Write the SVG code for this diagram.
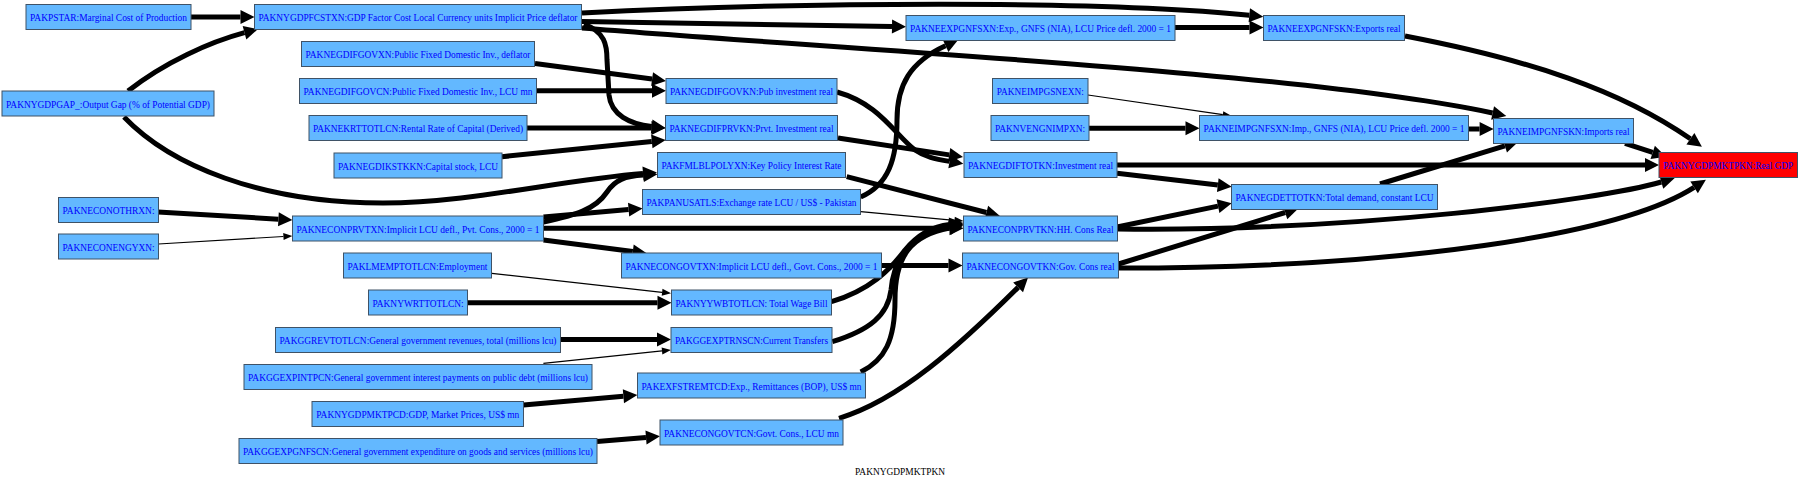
<svg xmlns="http://www.w3.org/2000/svg" width="1800" height="483" viewBox="0 0 1800 483">
<style>
.n rect{fill:#63b8ff;stroke:#3f5266;stroke-width:1}
.n text{font-family:"Liberation Serif","Times New Roman",serif;font-size:11px;fill:#0000ff;text-anchor:middle}
.e path{fill:none;stroke:#000}
.k{stroke-width:5}
.t{stroke-width:1.2}
.lbl{font-family:"Liberation Serif","Times New Roman",serif;font-size:11px;fill:#000;text-anchor:middle}
</style>
<defs>
<marker id="ak" markerUnits="userSpaceOnUse" markerWidth="15" markerHeight="15" refX="0" refY="7" orient="auto" overflow="visible"><path d="M0,0 L14,7 L0,14 z" fill="#000"/></marker>
<marker id="at" markerUnits="userSpaceOnUse" markerWidth="10" markerHeight="8" refX="0" refY="3.5" orient="auto" overflow="visible"><path d="M0,0 L9,3.5 L0,7 z" fill="#000"/></marker>
</defs>
<rect width="1800" height="483" fill="#fff"/>
<g id="edges" class="e">
<path class="k" marker-end="url(#ak)" d="M191,17 L240.5,17"/>
<path class="k" marker-end="url(#ak)" d="M128,91 C165,62 210,42 244.5,32.7"/>
<path class="k" marker-end="url(#ak)" d="M124,117 C170,165 260,203 383,203 C470,203 560,180 643,173.5"/>
<path class="k" marker-end="url(#ak)" d="M582,13 C800,2 1100,0 1249.3,15.3"/>
<path class="k" marker-end="url(#ak)" d="M582,21.5 L892,26.5"/>
<path class="k" marker-end="url(#ak)" d="M582,28 C850,50 1300,72 1492.6,113"/>
<path class="k" marker-end="url(#ak)" d="M584,24 C605,32 607,45 607,60 L609,95 C611,115 630,124 651.7,126.5"/>
<path class="k" marker-end="url(#ak)" d="M535,63.5 L652.1,79.1"/>
<path class="k" marker-end="url(#ak)" d="M536.5,90.7 L652,90.7"/>
<path class="k" marker-end="url(#ak)" d="M527,128 L651.5,128"/>
<path class="k" marker-end="url(#ak)" d="M502,156.7 L651.8,141.4"/>
<path class="k" marker-end="url(#ak)" d="M837,92 C880,104 895,135 915,150 C925,157 935,159 949.5,161.4"/>
<path class="k" marker-end="url(#ak)" d="M838,138 L949.2,154.9"/>
<path class="k" marker-end="url(#ak)" d="M1117,165 L1645,165"/>
<path class="k" marker-end="url(#ak)" d="M1117,173.3 L1217.8,185.1"/>
<path class="k" marker-end="url(#ak)" d="M1175,27.5 L1249.5,27.5"/>
<path class="k" marker-end="url(#ak)" d="M1405,36 C1530,60 1620,90 1690.4,138.8"/>
<path class="t" marker-end="url(#at)" d="M1088,95 L1222.8,114.7"/>
<path class="k" marker-end="url(#ak)" d="M1089,128.3 L1185.5,128.3"/>
<path class="k" marker-end="url(#ak)" d="M1468.3,129 L1479.6,129"/>
<path class="k" marker-end="url(#ak)" d="M1625,143.3 L1652.7,152.4"/>
<path class="k" marker-end="url(#ak)" d="M1380,184 L1504.9,145.8"/>
<path class="k" marker-end="url(#ak)" d="M158,212 L278.4,219.2"/>
<path class="t" marker-end="url(#at)" d="M158.4,244 L283.4,236.5"/>
<path class="k" marker-end="url(#ak)" d="M543.5,222 C575,215 595,210 607,192 C615,180 625,176 643.5,175"/>
<path class="k" marker-end="url(#ak)" d="M543.5,217 L628.6,209.6"/>
<path class="k" marker-end="url(#ak)" d="M543.5,228.3 L949.5,228.3"/>
<path class="k" marker-end="url(#ak)" d="M543.5,240 L632.8,251.5"/>
<path class="k" marker-end="url(#ak)" d="M846.7,176.7 L986.4,212.5"/>
<path class="k" marker-end="url(#ak)" d="M860.7,197 C888,185 897,160 897,120 C897,85 910,62 945.5,45.7"/>
<path class="t" marker-end="url(#at)" d="M860.7,211.7 L954.5,220.3"/>
<path class="k" marker-end="url(#ak)" d="M881.3,265.5 L948.5,265.5"/>
<path class="t" marker-end="url(#at)" d="M491.8,273.3 L662.1,292.3"/>
<path class="k" marker-end="url(#ak)" d="M467.6,302.7 L657.5,302.7"/>
<path class="k" marker-end="url(#ak)" d="M831.5,301.7 C870,290 890,270 905,250 C920,232 935,226 949.5,224.5"/>
<path class="k" marker-end="url(#ak)" d="M560.6,339.5 L657,339.5"/>
<path class="t" marker-end="url(#at)" d="M543.4,363.3 L662,350.9"/>
<path class="k" marker-end="url(#ak)" d="M832.3,341.7 C870,330 888,315 891,290 C894,255 915,232 949.5,226.5"/>
<path class="k" marker-end="url(#ak)" d="M523.5,405 L623.4,396.2"/>
<path class="k" marker-end="url(#ak)" d="M860.7,372 C885,360 895,340 895,300 C895,255 912,235 949.5,228"/>
<path class="k" marker-end="url(#ak)" d="M597,441.5 L646,437.5"/>
<path class="k" marker-end="url(#ak)" d="M839,418.3 C900,400 960,345 1018.1,287.4"/>
<path class="k" marker-end="url(#ak)" d="M1117.7,229 C1350,232 1600,200 1661.3,182"/>
<path class="k" marker-end="url(#ak)" d="M1117,227 L1218,206.1"/>
<path class="k" marker-end="url(#ak)" d="M1118.5,268 C1400,268 1620,235 1694.1,187.4"/>
<path class="k" marker-end="url(#ak)" d="M1118.5,264 L1285.2,212.5"/>
</g>
<g id="PAKPSTAR" class="n"><rect x="26" y="4.5" width="165" height="25"/><text x="108.5" y="21" textLength="157" lengthAdjust="spacingAndGlyphs">PAKPSTAR:Marginal Cost of Production</text></g>
<g id="PAKNYGDPFCSTXN" class="n"><rect x="254.5" y="4.5" width="327" height="25"/><text x="418" y="21" textLength="319" lengthAdjust="spacingAndGlyphs">PAKNYGDPFCSTXN:GDP Factor Cost Local Currency units Implicit Price deflator</text></g>
<g id="PAKNEGDIFGOVXN" class="n"><rect x="301.5" y="41.5" width="233" height="25"/><text x="418" y="58" textLength="225" lengthAdjust="spacingAndGlyphs">PAKNEGDIFGOVXN:Public Fixed Domestic Inv., deflator</text></g>
<g id="PAKNEGDIFGOVCN" class="n"><rect x="299.5" y="78.5" width="237" height="25"/><text x="418" y="95" textLength="229" lengthAdjust="spacingAndGlyphs">PAKNEGDIFGOVCN:Public Fixed Domestic Inv., LCU mn</text></g>
<g id="PAKNEKRTTOTLCN" class="n"><rect x="309" y="115.5" width="218" height="25"/><text x="418" y="132" textLength="210" lengthAdjust="spacingAndGlyphs">PAKNEKRTTOTLCN:Rental Rate of Capital (Derived)</text></g>
<g id="PAKNEGDIKSTKKN" class="n"><rect x="334" y="153" width="168" height="25"/><text x="418" y="169.5" textLength="160" lengthAdjust="spacingAndGlyphs">PAKNEGDIKSTKKN:Capital stock, LCU</text></g>
<g id="PAKNYGDPGAP_" class="n"><rect x="2" y="91" width="212" height="25"/><text x="108" y="107.5" textLength="204" lengthAdjust="spacingAndGlyphs">PAKNYGDPGAP_:Output Gap (% of Potential GDP)</text></g>
<g id="PAKNECONOTHRXN" class="n"><rect x="58.5" y="197.5" width="100" height="25"/><text x="108.5" y="214" textLength="92" lengthAdjust="spacingAndGlyphs">PAKNECONOTHRXN:</text></g>
<g id="PAKNECONENGYXN" class="n"><rect x="58.5" y="234" width="100" height="25"/><text x="108.5" y="250.5" textLength="92" lengthAdjust="spacingAndGlyphs">PAKNECONENGYXN:</text></g>
<g id="PAKNECONPRVTXN" class="n"><rect x="292.5" y="216" width="251" height="25"/><text x="418" y="232.5" textLength="243" lengthAdjust="spacingAndGlyphs">PAKNECONPRVTXN:Implicit LCU defl., Pvt. Cons., 2000 = 1</text></g>
<g id="PAKLMEMPTOTLCN" class="n"><rect x="343.5" y="253" width="148" height="25"/><text x="417.5" y="269.5" textLength="140" lengthAdjust="spacingAndGlyphs">PAKLMEMPTOTLCN:Employment</text></g>
<g id="PAKNYWRTTOTLCN" class="n"><rect x="368.5" y="290" width="99" height="25"/><text x="418" y="306.5" textLength="91" lengthAdjust="spacingAndGlyphs">PAKNYWRTTOTLCN:</text></g>
<g id="PAKGGREVTOTLCN" class="n"><rect x="275.5" y="327.5" width="285" height="25"/><text x="418" y="344" textLength="277" lengthAdjust="spacingAndGlyphs">PAKGGREVTOTLCN:General government revenues, total (millions lcu)</text></g>
<g id="PAKGGEXPINTPCN" class="n"><rect x="244" y="364.5" width="348" height="25"/><text x="418" y="381" textLength="340" lengthAdjust="spacingAndGlyphs">PAKGGEXPINTPCN:General government interest payments on public debt (millions lcu)</text></g>
<g id="PAKNYGDPMKTPCD" class="n"><rect x="312" y="401.5" width="211.5" height="25"/><text x="417.75" y="418" textLength="203" lengthAdjust="spacingAndGlyphs">PAKNYGDPMKTPCD:GDP, Market Prices, US$ mn</text></g>
<g id="PAKGGEXPGNFSCN" class="n"><rect x="239" y="438.5" width="358" height="25"/><text x="418" y="455" textLength="350" lengthAdjust="spacingAndGlyphs">PAKGGEXPGNFSCN:General government expenditure on goods and services (millions lcu)</text></g>
<g id="PAKNEEXPGNFSXN" class="n"><rect x="906" y="15.5" width="269" height="25"/><text x="1040.5" y="32" textLength="261" lengthAdjust="spacingAndGlyphs">PAKNEEXPGNFSXN:Exp., GNFS (NIA), LCU Price defl. 2000 = 1</text></g>
<g id="PAKNEGDIFGOVKN" class="n"><rect x="666" y="78.5" width="171" height="25"/><text x="751.5" y="95" textLength="163" lengthAdjust="spacingAndGlyphs">PAKNEGDIFGOVKN:Pub investment real</text></g>
<g id="PAKNEGDIFPRVKN" class="n"><rect x="665.5" y="115.5" width="172" height="25"/><text x="751.5" y="132" textLength="164" lengthAdjust="spacingAndGlyphs">PAKNEGDIFPRVKN:Prvt. Investment real</text></g>
<g id="PAKFMLBLPOLYXN" class="n"><rect x="657.5" y="152.5" width="188" height="25"/><text x="751.5" y="169" textLength="180" lengthAdjust="spacingAndGlyphs">PAKFMLBLPOLYXN:Key Policy Interest Rate</text></g>
<g id="PAKPANUSATLS" class="n"><rect x="642.5" y="189.5" width="218" height="25"/><text x="751.5" y="206" textLength="210" lengthAdjust="spacingAndGlyphs">PAKPANUSATLS:Exchange rate LCU / US$ - Pakistan</text></g>
<g id="PAKNECONGOVTXN" class="n"><rect x="621.5" y="253" width="260" height="25"/><text x="751.5" y="269.5" textLength="252" lengthAdjust="spacingAndGlyphs">PAKNECONGOVTXN:Implicit LCU defl., Govt. Cons., 2000 = 1</text></g>
<g id="PAKNYYWBTOTLCN" class="n"><rect x="671.5" y="290" width="160" height="25"/><text x="751.5" y="306.5" textLength="152" lengthAdjust="spacingAndGlyphs">PAKNYYWBTOTLCN: Total Wage Bill</text></g>
<g id="PAKGGEXPTRNSCN" class="n"><rect x="671" y="327.5" width="161" height="25"/><text x="751.5" y="344" textLength="153" lengthAdjust="spacingAndGlyphs">PAKGGEXPTRNSCN:Current Transfers</text></g>
<g id="PAKEXFSTREMTCD" class="n"><rect x="637.5" y="373" width="228" height="25"/><text x="751.5" y="389.5" textLength="220" lengthAdjust="spacingAndGlyphs">PAKEXFSTREMTCD:Exp., Remittances (BOP), US$ mn</text></g>
<g id="PAKNECONGOVTCN" class="n"><rect x="660" y="420" width="183" height="25"/><text x="751.5" y="436.5" textLength="175" lengthAdjust="spacingAndGlyphs">PAKNECONGOVTCN:Govt. Cons., LCU mn</text></g>
<g id="PAKNEIMPGSNEXN" class="n"><rect x="992.5" y="78.5" width="95.5" height="25"/><text x="1040.25" y="95" textLength="87" lengthAdjust="spacingAndGlyphs">PAKNEIMPGSNEXN:</text></g>
<g id="PAKNVENGNIMPXN" class="n"><rect x="991" y="115.5" width="98" height="25"/><text x="1040" y="132" textLength="90" lengthAdjust="spacingAndGlyphs">PAKNVENGNIMPXN:</text></g>
<g id="PAKNEGDIFTOTKN" class="n"><rect x="964" y="152.5" width="153" height="25"/><text x="1040.5" y="169" textLength="145" lengthAdjust="spacingAndGlyphs">PAKNEGDIFTOTKN:Investment real</text></g>
<g id="PAKNECONPRVTKN" class="n"><rect x="963.5" y="216" width="154" height="25"/><text x="1040.5" y="232.5" textLength="146" lengthAdjust="spacingAndGlyphs">PAKNECONPRVTKN:HH. Cons Real</text></g>
<g id="PAKNECONGOVTKN" class="n"><rect x="962.5" y="253" width="156" height="25"/><text x="1040.5" y="269.5" textLength="148" lengthAdjust="spacingAndGlyphs">PAKNECONGOVTKN:Gov. Cons real</text></g>
<g id="PAKNEEXPGNFSKN" class="n"><rect x="1263.5" y="15.5" width="141" height="25"/><text x="1334" y="32" textLength="133" lengthAdjust="spacingAndGlyphs">PAKNEEXPGNFSKN:Exports real</text></g>
<g id="PAKNEIMPGNFSXN" class="n"><rect x="1199.5" y="115.5" width="269" height="25"/><text x="1334" y="132" textLength="261" lengthAdjust="spacingAndGlyphs">PAKNEIMPGNFSXN:Imp., GNFS (NIA), LCU Price defl. 2000 = 1</text></g>
<g id="PAKNEIMPGNFSKN" class="n"><rect x="1493.5" y="118.5" width="140" height="25"/><text x="1563.5" y="135" textLength="132" lengthAdjust="spacingAndGlyphs">PAKNEIMPGNFSKN:Imports real</text></g>
<g id="PAKNEGDETTOTKN" class="n"><rect x="1231.5" y="184.5" width="206" height="25"/><text x="1334.5" y="201" textLength="198" lengthAdjust="spacingAndGlyphs">PAKNEGDETTOTKN:Total demand, constant LCU</text></g>
<g id="PAKNYGDPMKTPKN" class="n"><rect x="1659" y="152.5" width="138.5" height="25" style="fill:#ff0000"/><text x="1728.25" y="169" textLength="130" lengthAdjust="spacingAndGlyphs">PAKNYGDPMKTPKN:Real GDP</text></g>
<text class="lbl" x="900" y="475" textLength="90" lengthAdjust="spacingAndGlyphs">PAKNYGDPMKTPKN</text>
</svg>
